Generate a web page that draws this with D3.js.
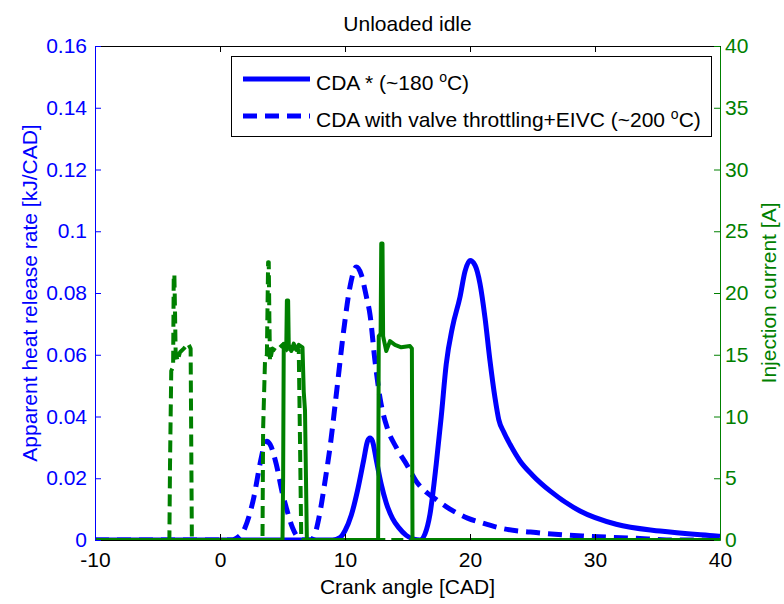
<!DOCTYPE html>
<html>
<head>
<meta charset="utf-8">
<script src="https://cdn.jsdelivr.net/npm/d3@7"></script>
<style>
  body { margin: 0; background: #fff; }
  text { font-family: "Liberation Sans", Arial, sans-serif; }
</style>
</head>
<body>
<div id="chart"></div>
<script>
// axis ticks
const xTicks = [-10, 0, 10, 20, 30, 40];
const xTickLabels = ["-10", "0", "10", "20", "30", "40"];
const hrrTicks = [0, 0.02, 0.04, 0.06, 0.08, 0.1, 0.12, 0.14, 0.16];
const hrrTickLabels = ["0", "0.02", "0.04", "0.06", "0.08", "0.1", "0.12", "0.14", "0.16"];
const currentTicks = [0, 5, 10, 15, 20, 25, 30, 35, 40];

const legendLabels = ["CDA * (~180 ", "CDA with valve throttling+EIVC (~200 "];

// heat release rate, CDA * (solid blue)
const cdaAngle = [-10, 9.0, 9.6, 10.0, 10.5, 11.0, 11.5, 11.8, 12.0, 12.2, 12.5, 12.9, 13.3, 13.8, 14.3, 14.9, 15.5,
  16.0, 16.4, 16.8, 17.3, 17.7, 18.1, 18.6, 19.2, 19.6, 20.0, 20.4, 20.8, 21.2, 21.6, 22.0, 22.3, 22.7, 23.2,
  24.0, 25.0, 26.4, 28.8, 31.7, 35.2, 39.7, 40];
const cdaHrr = [0, 0, 0.0008, 0.003, 0.008, 0.016, 0.026, 0.032, 0.033, 0.032, 0.026, 0.018, 0.012, 0.007, 0.004, 0.0015, 0.0003,
  0, 0.002, 0.0084, 0.0246, 0.040, 0.057, 0.069, 0.0787, 0.087, 0.0905, 0.089, 0.083, 0.072, 0.058, 0.046, 0.039, 0.035, 0.031,
  0.0256, 0.021, 0.0159, 0.0094, 0.0051, 0.0029, 0.0013, 0.0012];

// heat release rate, valve throttling + EIVC (dashed blue)
const thrAngle = [-10, 1.0, 1.3, 2.0, 2.7, 3.2, 3.5, 3.75, 4.0, 4.5, 5.0, 5.3, 5.8, 6.3, 6.6, 7.3, 7.6, 8.0, 8.4, 8.8,
  9.3, 9.9, 10.4, 10.9, 11.3, 11.7, 12.0, 12.4, 12.8, 13.4, 14.1, 15.0, 15.7, 16.5, 17.1, 18.4, 19.8, 21.0, 22.4,
  25.6, 29.0, 33.0, 35.0, 36.0, 40];
const thrHrr = [0, 0, 0.0005, 0.004, 0.0137, 0.0246, 0.030, 0.032, 0.031, 0.0246, 0.015, 0.0105, 0.004, 0.0005, 0, 0, 0.002, 0.009, 0.019, 0.030,
  0.047, 0.068, 0.082, 0.0884, 0.086, 0.079, 0.073, 0.058, 0.046, 0.036, 0.030, 0.024, 0.019, 0.0155, 0.0137, 0.0100, 0.0071, 0.0055, 0.0039,
  0.0023, 0.0013, 0.0006, 0.0002, 0, 0];

// injection current, CDA * (solid green)
const cdaCurAngle = [-10, 5.0, 5.05, 5.1, 5.3, 5.35, 5.45, 5.5, 5.7, 5.9, 6.1, 6.3, 6.6, 6.7, 6.8, 6.95,
  12.65, 12.7, 12.85, 12.9, 13.0, 13.05, 13.3, 13.6, 14.0, 14.5, 15.2, 15.35, 15.4, 40];
const cdaCurrent = [0, 0, 5, 15.9, 15.5, 19.4, 19.4, 15.8, 15.3, 15.9, 15.4, 15.8, 15.6, 12, 10.5, 0,
  0, 16.5, 16.7, 24.0, 24.0, 16.5, 15.3, 16.1, 15.8, 15.6, 15.7, 15.5, 0, 0];

// injection current, valve throttling + EIVC (dashed green)
const thrCurAngle = [-10, -4.05, -4.0, -3.9, -3.75, -3.7, -3.65, -3.6, -3.55, -3.4, -3.2, -2.9, -2.55, -2.35, -2.25,
  3.4, 3.45, 3.6, 3.75, 3.85, 3.9, 3.95, 4.0, 4.2, 4.5, 5.0, 5.5, 6.0, 6.3, 6.4, 6.5, 40];
const thrCurrent = [0, 0, 6, 13.7, 14, 21.5, 21.5, 18.6, 15.3, 14.5, 15.2, 15.5, 15.9, 15.5, 0,
  0, 9, 14.5, 15, 22.5, 22.5, 18, 14.5, 15.5, 15.3, 15.8, 15.2, 15.6, 15.4, 8, 0, 0];

const blue = "#0000ff";
const green = "#008000";
const fontSize = 21;

function drawChart(div_id)
{
  let width = 784, height = 604;
  let left = 95, right = 720, top = 46, bottom = 540;

  let svg = d3.select("#" + div_id)
    .append("svg")
    .attr("width", width)
    .attr("height", height);

  let x = d3.scaleLinear().domain([-10, 40]).range([left, right]);
  let yL = d3.scaleLinear().domain([0, 0.16]).range([bottom, top]);
  let yR = d3.scaleLinear().domain([0, 40]).range([bottom, top]);

  svg.append("clipPath").attr("id", "plotclip")
    .append("rect")
    .attr("x", left).attr("y", top)
    .attr("width", right - left).attr("height", bottom - top + 1);

  //curves: heat release smooth, injection current straight segments
  let plot = svg.append("g").attr("clip-path", "url(#plotclip)");
  let series = [
    [cdaAngle, cdaHrr, yL, blue, 5, null, d3.curveMonotoneX],
    [thrAngle, thrHrr, yL, blue, 5, "14,8", d3.curveMonotoneX],
    [cdaCurAngle, cdaCurrent, yR, green, 4, null, d3.curveLinear],
    [thrCurAngle, thrCurrent, yR, green, 4, "12,6", d3.curveLinear]
  ];
  series.forEach(function(s) {
    let pts = s[0].map(function(a, i) { return [a, s[1][i]]; });
    let line = d3.line()
      .curve(s[6])
      .x(function(d) { return x(d[0]); })
      .y(function(d) { return s[2](d[1]); });
    plot.append("path")
      .datum(pts)
      .attr("d", line)
      .attr("fill", "none")
      .attr("stroke", s[3])
      .attr("stroke-width", s[4])
      .attr("stroke-linejoin", "round")
      .attr("stroke-dasharray", s[5]);
  });

  //axes
  let tickLen = 6;
  let xBottom = svg.append("g")
    .attr("transform", "translate(0," + bottom + ")")
    .call(d3.axisBottom(x).tickValues(xTicks).tickSizeInner(-tickLen).tickSizeOuter(0)
      .tickFormat(function(d, i) { return xTickLabels[i]; }));
  let xTop = svg.append("g")
    .attr("transform", "translate(0," + top + ")")
    .call(d3.axisTop(x).tickValues(xTicks).tickSizeInner(-tickLen).tickSizeOuter(0).tickFormat(""));
  let yLeft = svg.append("g")
    .attr("transform", "translate(" + left + ",0)")
    .call(d3.axisLeft(yL).tickValues(hrrTicks).tickSizeInner(-tickLen).tickSizeOuter(0).tickPadding(8)
      .tickFormat(function(d, i) { return hrrTickLabels[i]; }));
  let yRight = svg.append("g")
    .attr("transform", "translate(" + right + ",0)")
    .call(d3.axisRight(yR).tickValues(currentTicks).tickSizeInner(-tickLen).tickSizeOuter(0).tickPadding(5));

  [[xBottom, "#000"], [xTop, "#000"], [yLeft, blue], [yRight, green]].forEach(function(a) {
    a[0].selectAll("path, line").attr("stroke", a[1]).attr("stroke-width", 1);
    a[0].selectAll("text")
      .attr("fill", a[1])
      .attr("font-size", fontSize + "px")
      .attr("font-family", "Liberation Sans, Arial, sans-serif");
  });
  xBottom.selectAll("text").attr("dy", "0.71em").attr("y", 12);

  //titles
  svg.append("text")
    .attr("x", (left + right) / 2)
    .attr("y", 31)
    .attr("text-anchor", "middle")
    .attr("font-size", fontSize + "px")
    .text("Unloaded idle");

  svg.append("text")
    .attr("x", (left + right) / 2)
    .attr("y", 594)
    .attr("text-anchor", "middle")
    .attr("font-size", fontSize + "px")
    .text("Crank angle [CAD]");

  svg.append("text")
    .attr("transform", "translate(37," + (top + bottom) / 2 + ") rotate(-90)")
    .attr("text-anchor", "middle")
    .attr("font-size", fontSize + "px")
    .attr("fill", blue)
    .text("Apparent heat release rate [kJ/CAD]");

  svg.append("text")
    .attr("transform", "translate(776," + (top + bottom) / 2 + ") rotate(-90)")
    .attr("text-anchor", "middle")
    .attr("font-size", fontSize + "px")
    .attr("fill", green)
    .text("Injection current [A]");

  //legend
  let lg = svg.append("g");
  lg.append("rect")
    .attr("x", 231.5).attr("y", 56.5)
    .attr("width", 480).attr("height", 80)
    .attr("fill", "#fff")
    .attr("stroke", "#000")
    .attr("stroke-width", 1);

  let rowY = [79, 116];
  legendLabels.forEach(function(lbl, i) {
    lg.append("line")
      .attr("x1", 243).attr("x2", 310)
      .attr("y1", rowY[i]).attr("y2", rowY[i])
      .attr("stroke", blue)
      .attr("stroke-width", 5)
      .attr("stroke-dasharray", i === 0 ? null : "14,8");
    let t = lg.append("text")
      .attr("x", 316)
      .attr("y", rowY[i] + 11)
      .attr("font-size", fontSize + "px");
    t.append("tspan").text(lbl);
    t.append("tspan").attr("dy", -8).attr("font-size", "14px").text("o");
    t.append("tspan").attr("dy", 8).text("C)");
  });
}

drawChart("chart");
</script>
</body>
</html>
